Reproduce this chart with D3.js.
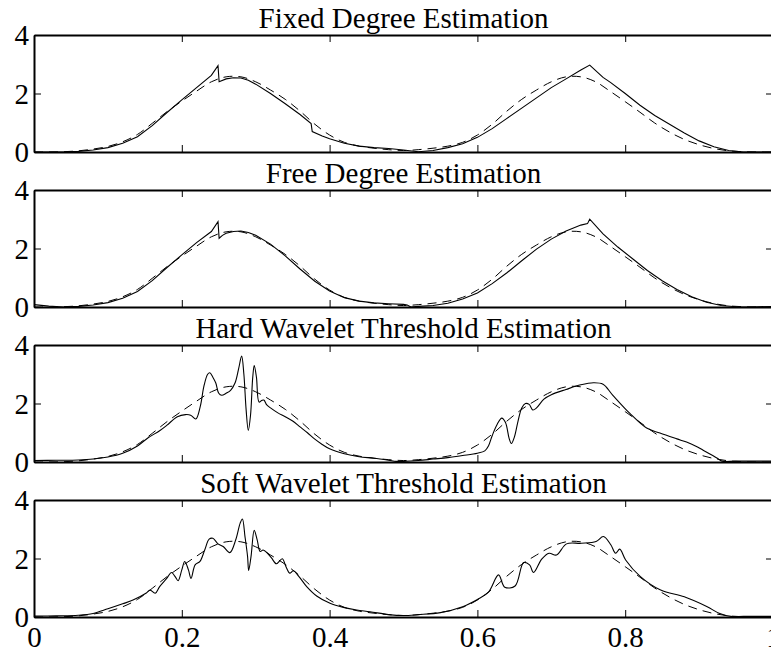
<!DOCTYPE html>
<html><head><meta charset="utf-8">
<script src="https://cdn.jsdelivr.net/npm/d3@7"></script>
<style>body{margin:0;background:#fff}</style>
</head><body><svg id="c" width="771" height="652"></svg>
<script>
const titles = ["Fixed Degree Estimation","Free Degree Estimation","Hard Wavelet Threshold Estimation","Soft Wavelet Threshold Estimation"];
const xTicks = [0,0.2,0.4,0.6,0.8,1];
const xTickLabels = ["0","0.2","0.4","0.6","0.8","1"];
const yTicks = [0,2,4];
const yTickLabels = ["0","2","4"];

// true density (dashed)
const truthX = [0,0.02,0.04,0.06,0.08,0.10,0.12,0.14,0.16,0.18,0.20,0.22,0.24,0.26,0.28,0.30,0.32,0.34,0.36,0.38,0.40,0.42,0.44,0.46,0.48,0.50,0.52,0.54,0.56,0.58,0.60,0.62,0.64,0.66,0.68,0.70,0.72,0.74,0.76,0.78,0.80,0.82,0.84,0.86,0.88,0.90,0.92,0.94,0.96,0.98,1.00];
const truthY = [0,0,0.01,0.04,0.10,0.19,0.35,0.60,0.98,1.38,1.74,2.08,2.40,2.57,2.57,2.40,2.12,1.80,1.40,0.95,0.58,0.33,0.20,0.13,0.08,0.05,0.08,0.13,0.20,0.33,0.58,0.95,1.40,1.80,2.12,2.40,2.57,2.57,2.40,2.07,1.72,1.36,0.99,0.68,0.43,0.25,0.12,0.04,0.01,0,0];

// estimates (solid)
const fixedEst = [[0,0],[0.04,0],[0.06,0.02],[0.08,0.07],[0.10,0.15],[0.12,0.3],[0.14,0.52],[0.16,0.9],[0.18,1.35],[0.20,1.78],[0.22,2.2],[0.24,2.62],[0.249,2.95],[0.2505,2.4],[0.26,2.5],[0.27,2.54],[0.28,2.53],[0.29,2.45],[0.30,2.32],[0.32,2.0],[0.34,1.65],[0.36,1.28],[0.375,0.97],[0.3765,0.7],[0.39,0.55],[0.40,0.45],[0.42,0.3],[0.44,0.2],[0.46,0.15],[0.48,0.12],[0.50,0.07],[0.52,0.01],[0.54,0.05],[0.56,0.15],[0.58,0.28],[0.60,0.5],[0.62,0.8],[0.64,1.15],[0.66,1.5],[0.68,1.85],[0.70,2.2],[0.72,2.5],[0.74,2.8],[0.752,2.97],[0.77,2.55],[0.78,2.38],[0.80,2.0],[0.82,1.6],[0.84,1.25],[0.86,0.95],[0.88,0.65],[0.90,0.38],[0.92,0.18],[0.94,0.05],[0.96,0],[1,0]];
const freeEst = [[0,0.08],[0.02,0.03],[0.04,0.0],[0.06,0.02],[0.08,0.07],[0.10,0.15],[0.12,0.3],[0.14,0.53],[0.16,0.9],[0.18,1.35],[0.20,1.78],[0.22,2.2],[0.24,2.58],[0.249,2.92],[0.2505,2.35],[0.255,2.45],[0.26,2.52],[0.27,2.58],[0.28,2.6],[0.29,2.55],[0.30,2.45],[0.32,2.15],[0.34,1.75],[0.36,1.3],[0.38,0.88],[0.40,0.55],[0.42,0.32],[0.44,0.2],[0.46,0.14],[0.48,0.11],[0.50,0.09],[0.505,0.07],[0.51,0.0],[0.52,0.02],[0.54,0.05],[0.56,0.13],[0.58,0.27],[0.60,0.48],[0.62,0.8],[0.64,1.17],[0.66,1.58],[0.68,1.98],[0.70,2.32],[0.72,2.6],[0.74,2.8],[0.749,2.85],[0.752,3.0],[0.77,2.5],[0.79,2.05],[0.81,1.65],[0.83,1.25],[0.85,0.9],[0.87,0.6],[0.89,0.35],[0.91,0.16],[0.93,0.05],[0.95,0.01],[0.97,0],[1,0.02]];
const hardEst = [[0,0.05],[0.03,0.06],[0.06,0.07],[0.08,0.1],[0.10,0.17],[0.12,0.3],[0.14,0.55],[0.154,0.82],[0.17,1.07],[0.18,1.26],[0.194,1.55],[0.205,1.62],[0.212,1.6],[0.219,1.47],[0.225,1.9],[0.23,2.6],[0.235,3.0],[0.238,3.05],[0.242,2.9],[0.246,2.7],[0.25,2.35],[0.254,2.28],[0.26,2.35],[0.266,2.45],[0.272,2.7],[0.277,3.2],[0.281,3.62],[0.284,3.0],[0.287,1.8],[0.29,1.08],[0.293,1.6],[0.296,2.9],[0.298,3.3],[0.301,2.9],[0.3045,2.05],[0.308,2.1],[0.311,2.12],[0.315,1.95],[0.32,1.85],[0.33,1.68],[0.34,1.55],[0.35,1.4],[0.36,1.2],[0.37,1.0],[0.38,0.78],[0.39,0.6],[0.40,0.45],[0.42,0.28],[0.44,0.18],[0.46,0.13],[0.48,0.06],[0.49,0.02],[0.50,0.02],[0.52,0.05],[0.54,0.1],[0.56,0.15],[0.58,0.22],[0.60,0.3],[0.61,0.38],[0.615,0.55],[0.62,0.9],[0.627,1.3],[0.633,1.5],[0.638,1.35],[0.643,0.8],[0.646,0.63],[0.65,0.85],[0.655,1.4],[0.66,1.85],[0.665,2.0],[0.67,1.97],[0.675,1.78],[0.68,1.85],[0.69,2.15],[0.70,2.3],[0.72,2.48],[0.74,2.64],[0.757,2.71],[0.77,2.66],[0.783,2.29],[0.806,1.67],[0.829,1.16],[0.847,0.99],[0.87,0.79],[0.883,0.68],[0.895,0.55],[0.905,0.41],[0.924,0.14],[0.931,0.03],[0.95,0.03],[1,0.03]];
const softEst = [[0,0.03],[0.03,0.04],[0.06,0.06],[0.08,0.12],[0.10,0.28],[0.12,0.45],[0.134,0.58],[0.152,0.82],[0.157,0.92],[0.164,0.81],[0.17,1.04],[0.1796,1.32],[0.186,1.52],[0.191,1.38],[0.195,1.24],[0.20,1.61],[0.204,1.9],[0.209,1.61],[0.2125,1.32],[0.218,1.78],[0.2246,1.9],[0.231,2.29],[0.237,2.66],[0.242,2.69],[0.249,2.5],[0.256,2.41],[0.265,2.2],[0.273,2.64],[0.279,3.21],[0.282,3.35],[0.2855,2.75],[0.289,2.07],[0.2905,1.59],[0.2937,2.07],[0.298,2.96],[0.302,2.64],[0.306,2.24],[0.310,2.29],[0.316,2.18],[0.3216,2.01],[0.328,1.82],[0.336,1.99],[0.341,1.72],[0.346,1.5],[0.351,1.58],[0.358,1.4],[0.369,1.04],[0.3825,0.72],[0.4006,0.47],[0.4186,0.33],[0.4367,0.24],[0.4547,0.18],[0.48,0.08],[0.50,0.05],[0.52,0.08],[0.55,0.15],[0.58,0.35],[0.60,0.6],[0.615,0.85],[0.6286,1.44],[0.637,1.02],[0.651,1.06],[0.6625,1.86],[0.6706,1.78],[0.676,1.52],[0.687,1.98],[0.697,2.18],[0.707,2.12],[0.7206,2.5],[0.7406,2.52],[0.7605,2.58],[0.7705,2.75],[0.7805,2.47],[0.787,2.18],[0.7926,2.32],[0.8006,1.95],[0.8206,1.38],[0.848,0.92],[0.88,0.69],[0.911,0.35],[0.927,0.13],[0.943,0.02],[0.96,0.02],[1,0.02]];
const estimates = [fixedEst, freeEst, hardEst, softEst];

const svg = d3.select("#c");
const W0 = 34, W1 = 773, H = 117;
const font = "'Liberation Serif','Times New Roman',serif";
const x = d3.scaleLinear().domain([0,1]).range([W0, W1]);
const y = d3.scaleLinear().domain([0,4]).range([H, 0]);
const truth = truthX.map((v,i)=>[v, truthY[i]]);
const smooth = d3.line().x(d=>x(d[0])).y(d=>y(d[1])).curve(d3.curveCatmullRom.alpha(0.5));
const straight = d3.line().x(d=>x(d[0])).y(d=>y(d[1])).curve(d3.curveLinear);

titles.forEach((t, i) => {
  const top = 35 + i*155;
  const g = svg.append("g").attr("transform", `translate(0,${top})`);
  g.append("text").attr("x",(W0+W1)/2).attr("y",-7)
    .attr("text-anchor","middle").attr("font-family",font).attr("font-size",29).text(t);

  g.append("path").datum(truth).attr("d", smooth).attr("fill","none")
    .attr("stroke","#000").attr("stroke-width",1).attr("stroke-dasharray","9,6");
  g.append("path").datum(estimates[i]).attr("d", i < 2 ? straight : smooth).attr("fill","none")
    .attr("stroke","#000").attr("stroke-width",1.1);

  const last = i === titles.length-1;
  const bottom = g.append("g").attr("transform",`translate(0,${H})`)
    .call(d3.axisBottom(x).tickValues(xTicks).tickSize(-7).tickSizeOuter(0).tickPadding(9)
      .tickFormat((d,k)=> last ? xTickLabels[k] : ""));
  const topAx = g.append("g").call(d3.axisTop(x).tickValues(xTicks).tickSize(-7).tickSizeOuter(0).tickFormat(""));
  const left = g.append("g").attr("transform",`translate(${W0},0)`)
    .call(d3.axisLeft(y).tickValues(yTicks).tickSize(-7).tickSizeOuter(0).tickPadding(5)
      .tickFormat((d,k)=>yTickLabels[k]));
  const right = g.append("g").attr("transform",`translate(${W1},0)`)
    .call(d3.axisRight(y).tickValues(yTicks).tickSize(-7).tickSizeOuter(0).tickFormat(""));
  [bottom, topAx, left, right].forEach(a => {
    a.select(".domain").attr("stroke","#000").attr("stroke-width",2);
    a.selectAll(".tick line").attr("stroke","#000").attr("stroke-width",1);
    a.selectAll("text").attr("font-family",font).attr("font-size",29).attr("fill","#000");
  });
  left.selectAll(".tick text").attr("dy","0.34em");
});
</script></body></html>
